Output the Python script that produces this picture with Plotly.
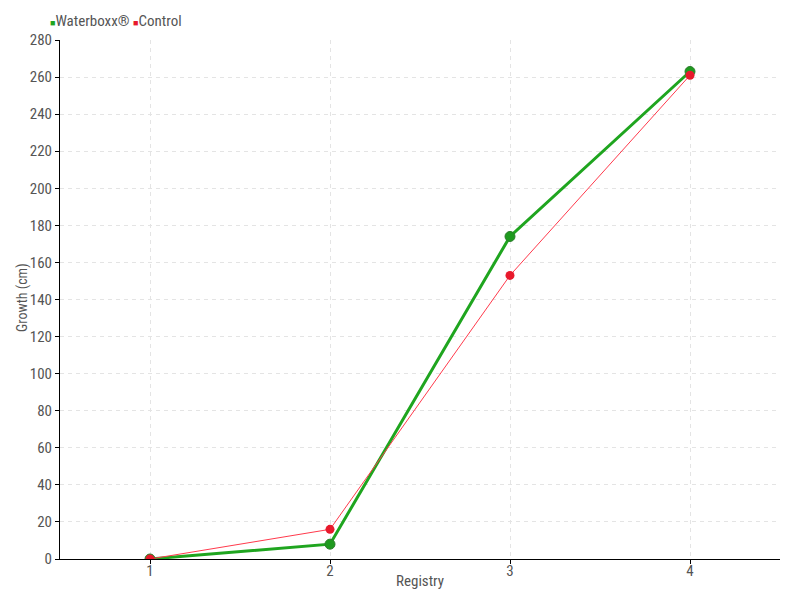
import plotly.graph_objects as go

registry = [1, 2, 3, 4]
waterboxx = [0, 8, 174, 263]
control = [0, 16, 153, 261]

FONT = "Roboto Condensed, Roboto, sans-serif"
GREY = "#555555"
GREEN = "#1fa51f"
RED = "#ff3a4c"

fig = go.Figure()

fig.add_trace(go.Scatter(
    x=registry, y=waterboxx, name="Waterboxx®", mode="lines+markers",
    line=dict(color=GREEN, width=3),
    marker=dict(color="#1f9a1f", size=10, line=dict(color="#2b7d2b", width=1)),
    showlegend=False,
))
fig.add_trace(go.Scatter(
    x=registry, y=control, name="Control", mode="lines+markers",
    line=dict(color=RED, width=1),
    marker=dict(color="#e8192c", size=9),
    showlegend=False,
))

# legend drawn as a line of text with coloured squares
fig.add_annotation(
    xref="paper", yref="paper", x=-0.017, y=1.036, xanchor="left", yanchor="middle",
    showarrow=False, font=dict(family=FONT, size=15, color=GREY),
    text=(f"<span style='color:{GREEN};font-size:9px'>■</span>Waterboxx® "
          f"<span style='color:#e8192c;font-size:9px'>■</span>Control"),
)
fig.add_annotation(
    xref="paper", yref="paper", x=0.5, y=-0.0424, xanchor="center", yanchor="middle",
    showarrow=False, text="Registry", font=dict(family=FONT, size=15, color=GREY),
)
fig.add_annotation(
    xref="paper", yref="paper", x=-0.0514, y=0.505, xanchor="center", yanchor="middle",
    showarrow=False, text="Growth (cm)", textangle=-90,
    font=dict(family=FONT, size=14, color=GREY),
)

fig.update_layout(
    width=800, height=600,
    margin=dict(l=60, r=20, t=40, b=41),
    plot_bgcolor="white", paper_bgcolor="white",
    font=dict(family=FONT, size=15, color=GREY),
    showlegend=False,
)

fig.update_xaxes(
    range=[0.5, 4.5], tickvals=registry, ticktext=[str(r) for r in registry],
    showline=True, linecolor="black", linewidth=1,
    ticks="outside", ticklen=4, tickcolor="black", ticklabelstandoff=-6,
    showgrid=True, gridcolor="#e4e4e4", griddash="4px,4px", zeroline=False,
    automargin=False,
)
fig.update_yaxes(
    range=[0, 280], dtick=20,
    showline=True, linecolor="black", linewidth=1,
    ticks="outside", ticklen=4, tickcolor="black",
    showgrid=True, gridcolor="#e4e4e4", griddash="4px,4px", zeroline=False,
    automargin=False,
)

fig.write_html("out.html", config=dict(displayModeBar=False),
               post_script="document.body.style.margin='0';")
